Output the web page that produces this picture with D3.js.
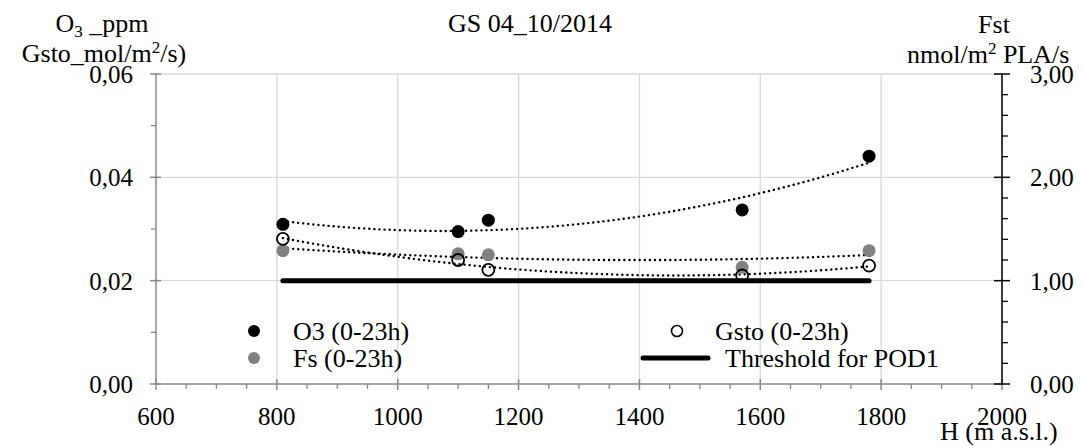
<!DOCTYPE html>
<html><head><meta charset="utf-8">
<script src="https://cdn.jsdelivr.net/npm/d3@7"></script>
<style>
@font-face { font-family: "ChartSerif"; src: local("Liberation Serif"), local("LiberationSerif-Regular"), local("Times New Roman"), local("DejaVu Serif"); }
html body svg#c text, html body svg#c tspan { font-family: "Liberation Serif", "ChartSerif", "Times New Roman", "Tinos", "Nimbus Roman", "FreeSerif", "DejaVu Serif", serif !important; }
</style>
</head><body style="margin:0;background:#fff"><svg id="c" width="1084" height="446" style="display:block"></svg>
<script>
const altitudes = [810, 1100, 1150, 1570, 1780];
const o3 = [0.0309, 0.0295, 0.0317, 0.0337, 0.0441];
const gsto = [0.0281, 0.0240, 0.0221, 0.0210, 0.0229];
const fs = [1.29, 1.26, 1.25, 1.13, 1.29];
const threshold = 1.00;
const xTicks = [600, 800, 1000, 1200, 1400, 1600, 1800, 2000];
const yLeftTicks = [0, 0.02, 0.04, 0.06];
const yRightTicks = [0, 1, 2, 3];

const svg = d3.select('#c');
const L = 156, R = 1002, T = 74, B = 384;
const x = d3.scaleLinear().domain([600, 2000]).range([L, R]);
const yL = d3.scaleLinear().domain([0, 0.06]).range([B, T]);
const yR = d3.scaleLinear().domain([0, 3]).range([B, T]);
const fmt = d => d.toFixed(2).replace('.', ',');
const grid = '#d9d9d9', axc = '#888';
const TICK_FS = 25, LAB_FS = 26;
const FONT = '"Liberation Serif", "Times New Roman", "DejaVu Serif", serif';
function txt(sel) { return sel.append('text').attr('font-family', FONT).style('font-family', '"Liberation Serif"'); }

// gridlines
svg.append('g').selectAll('line').data(xTicks.slice(1)).join('line')
  .attr('x1', d => x(d)).attr('x2', d => x(d)).attr('y1', T).attr('y2', B)
  .attr('stroke', grid).attr('stroke-width', 1.3);
svg.append('g').selectAll('line').data(yLeftTicks.slice(1)).join('line')
  .attr('x1', L).attr('x2', R).attr('y1', d => yL(d)).attr('y2', d => yL(d))
  .attr('stroke', grid).attr('stroke-width', 1.3);

// x axis
const gx = svg.append('g');
gx.append('line').attr('x1', L).attr('x2', R).attr('y1', B).attr('y2', B).attr('stroke', axc).attr('stroke-width', 1.5);
gx.selectAll('.mn').data(d3.range(650, 2000, 50).filter(v => v % 200)).join('line')
  .attr('x1', d => x(d)).attr('x2', d => x(d)).attr('y1', B).attr('y2', B + 5).attr('stroke', axc).attr('stroke-width', 1.3);
gx.selectAll('.mj').data(xTicks).join('line')
  .attr('x1', d => x(d)).attr('x2', d => x(d)).attr('y1', B - 5).attr('y2', B + 6).attr('stroke', axc).attr('stroke-width', 1.5);
xTicks.forEach(d => txt(gx).attr('x', x(d)).attr('y', B + 41).attr('text-anchor', 'middle').attr('font-size', TICK_FS).text(d));

// left axis
const gl = svg.append('g');
gl.append('line').attr('x1', L).attr('x2', L).attr('y1', T).attr('y2', B).attr('stroke', axc).attr('stroke-width', 1.5);
gl.selectAll('.mn').data([0.01, 0.03, 0.05]).join('line')
  .attr('x1', L - 5).attr('x2', L).attr('y1', d => yL(d)).attr('y2', d => yL(d)).attr('stroke', axc).attr('stroke-width', 1.3);
gl.selectAll('.mj').data(yLeftTicks).join('line')
  .attr('x1', L - 6).attr('x2', L + 5).attr('y1', d => yL(d)).attr('y2', d => yL(d)).attr('stroke', axc).attr('stroke-width', 1.5);
yLeftTicks.forEach(d => txt(gl).attr('x', 133).attr('y', yL(d) + 9).attr('text-anchor', 'end').attr('font-size', TICK_FS).text(fmt(d)));

// right axis
const gr = svg.append('g');
gr.append('line').attr('x1', R).attr('x2', R).attr('y1', T).attr('y2', B).attr('stroke', '#000').attr('stroke-width', 1.5);
gr.selectAll('.mn').data(d3.range(0.2, 3, 0.2).filter(v => Math.abs(v - Math.round(v)) > 0.01)).join('line')
  .attr('x1', R).attr('x2', R + 6).attr('y1', d => yR(d)).attr('y2', d => yR(d)).attr('stroke', '#000').attr('stroke-width', 1.3);
gr.selectAll('.mj').data(yRightTicks).join('line')
  .attr('x1', R - 8).attr('x2', R + 8).attr('y1', d => yR(d)).attr('y2', d => yR(d)).attr('stroke', '#000').attr('stroke-width', 1.5);
yRightTicks.forEach(d => txt(gr).attr('x', 1030).attr('y', yR(d) + 9).attr('font-size', TICK_FS).text(fmt(d)));

// quadratic least squares trendline (as the spreadsheet's poly-2 trendline)
function polyFit(xs, ys) {
  let S = [0,0,0,0,0], Sy = [0,0,0];
  xs.forEach((xi, i) => { for (let k = 0; k < 5; k++) S[k] += Math.pow(xi, k); for (let k = 0; k < 3; k++) Sy[k] += ys[i] * Math.pow(xi, k); });
  const A = [[S[0],S[1],S[2],Sy[0]],[S[1],S[2],S[3],Sy[1]],[S[2],S[3],S[4],Sy[2]]];
  for (let i = 0; i < 3; i++) { for (let j = i + 1; j < 3; j++) { const f = A[j][i] / A[i][i]; for (let k = i; k < 4; k++) A[j][k] -= f * A[i][k]; } }
  const c = [0,0,0];
  for (let i = 2; i >= 0; i--) { let s = A[i][3]; for (let k = i + 1; k < 3; k++) s -= A[i][k] * c[k]; c[i] = s / A[i][i]; }
  return v => c[0] + c[1] * v + c[2] * v * v;
}
const xs = altitudes.map(a => (a - 1000) / 1000);
const trendX = d3.range(altitudes[0], altitudes[altitudes.length - 1] + 1, 5);
function trend(vals, ys) {
  const f = polyFit(xs, vals);
  svg.append('path').datum(trendX)
    .attr('d', d3.line().x(d => x(d)).y(d => ys(f((d - 1000) / 1000))))
    .attr('fill', 'none').attr('stroke', '#000').attr('stroke-width', 2.4)
    .attr('stroke-dasharray', '0.1,5').attr('stroke-linecap', 'round');
}
trend(o3, yL); trend(gsto, yL); trend(fs, yR);

// threshold
svg.append('line').attr('x1', x(altitudes[0])).attr('x2', x(altitudes[altitudes.length - 1]))
  .attr('y1', yR(threshold)).attr('y2', yR(threshold)).attr('stroke', '#000').attr('stroke-width', 5).attr('stroke-linecap', 'round');

// points
svg.append('g').selectAll('circle').data(altitudes).join('circle')
  .attr('cx', d => x(d)).attr('cy', (d, i) => yR(fs[i])).attr('r', 6.5).attr('fill', '#808080');
svg.append('g').selectAll('circle').data(altitudes).join('circle')
  .attr('cx', d => x(d)).attr('cy', (d, i) => yL(o3[i])).attr('r', 6.5).attr('fill', '#000');
svg.append('g').selectAll('circle').data(altitudes).join('circle')
  .attr('cx', d => x(d)).attr('cy', (d, i) => yL(gsto[i])).attr('r', 6).attr('fill', 'none').attr('stroke', '#000').attr('stroke-width', 1.8);

// legend
const lg = svg.append('g');
lg.append('circle').attr('cx', 254).attr('cy', 331).attr('r', 6).attr('fill', '#000');
txt(lg).attr('x', 293).attr('y', 340).attr('font-size', LAB_FS).text('O3 (0-23h)');
lg.append('circle').attr('cx', 254).attr('cy', 358).attr('r', 6).attr('fill', '#808080');
txt(lg).attr('x', 293).attr('y', 367).attr('font-size', LAB_FS).text('Fs (0-23h)');
lg.append('circle').attr('cx', 677).attr('cy', 331).attr('r', 5.5).attr('fill', 'none').attr('stroke', '#000').attr('stroke-width', 1.6);
txt(lg).attr('x', 715).attr('y', 340).attr('font-size', LAB_FS).text('Gsto (0-23h)');
lg.append('line').attr('x1', 643).attr('x2', 708).attr('y1', 358).attr('y2', 358).attr('stroke', '#000').attr('stroke-width', 5).attr('stroke-linecap', 'round');
txt(lg).attr('x', 725).attr('y', 367).attr('font-size', LAB_FS).text('Threshold for POD1');

// titles
txt(svg).attr('x', 530).attr('y', 32).attr('text-anchor', 'middle').attr('font-size', LAB_FS).text('GS 04_10/2014');
const t1 = txt(svg).attr('x', 102).attr('y', 32).attr('text-anchor', 'middle').attr('font-size', LAB_FS);
t1.append('tspan').text('O');
t1.append('tspan').attr('font-size', 17).attr('dy', 5).text('3');
t1.append('tspan').attr('dy', -5).text(' _ppm');
const t2 = txt(svg).attr('x', 104).attr('y', 62).attr('text-anchor', 'middle').attr('font-size', LAB_FS);
t2.append('tspan').text('Gsto_mol/m');
t2.append('tspan').attr('font-size', 17).attr('dy', -9).text('2');
t2.append('tspan').attr('dy', 9).text('/s)');
txt(svg).attr('x', 994).attr('y', 33).attr('text-anchor', 'middle').attr('font-size', LAB_FS).text('Fst');
const t3 = txt(svg).attr('x', 907).attr('y', 63).attr('font-size', LAB_FS);
t3.append('tspan').text('nmol/m');
t3.append('tspan').attr('font-size', 17).attr('dy', -9).text('2');
t3.append('tspan').attr('dy', 9).text(' PLA/s');
txt(svg).attr('x', 940).attr('y', 440).attr('font-size', LAB_FS).text('H (m a.s.l.)');
</script></body></html>
